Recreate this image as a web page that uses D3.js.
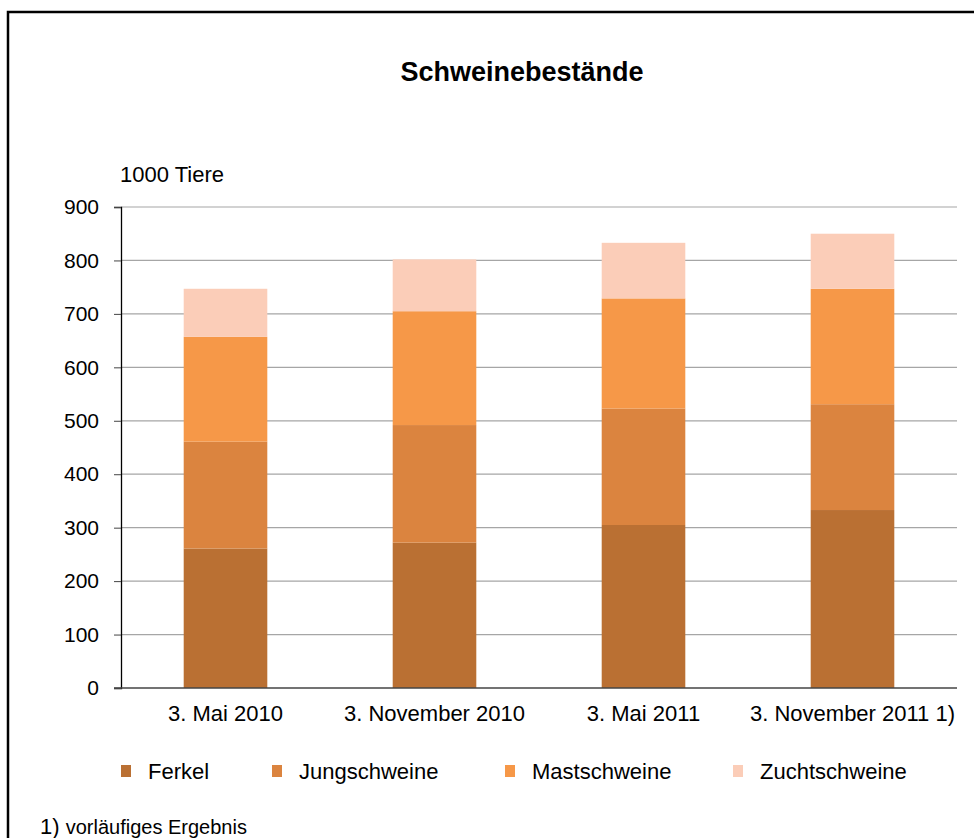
<!DOCTYPE html>
<html>
<head>
<meta charset="utf-8">
<script src="https://cdn.jsdelivr.net/npm/d3@7"></script>
<style>
  body { margin: 0; background: #fff; }
  svg { display: block; font-family: "Liberation Sans", Arial, sans-serif; }
</style>
</head>
<body>
<div id="chart"></div>
<script>
// Schweinebestände, 1000 Tiere
const categories = ["3. Mai 2010", "3. November 2010", "3. Mai 2011", "3. November 2011 1)"];
const seriesNames = ["Ferkel", "Jungschweine", "Mastschweine", "Zuchtschweine"];
const ferkel = [261, 272, 305, 333];
const jungschweine = [200, 220, 218, 198];
const mastschweine = [196, 213, 206, 216];
const zuchtschweine = [90, 97, 104, 103];
const yTicks = [0, 100, 200, 300, 400, 500, 600, 700, 800, 900];
const colors = ["#ba7033", "#db843f", "#f69848", "#fbcdb8"];

function main() {
    const width = 974;
    const height = 838;
    const marginLeft = 121;
    const marginRight = 17;
    const marginTop = 207;
    const plotBottom = 688;

    const rows = categories.map((c, i) => ({
        cat: c,
        Ferkel: ferkel[i],
        Jungschweine: jungschweine[i],
        Mastschweine: mastschweine[i],
        Zuchtschweine: zuchtschweine[i]
    }));
    const stacked = d3.stack().keys(seriesNames)(rows);

    const svg = d3.select("#chart").append("svg")
        .attr("width", width)
        .attr("height", height);

    // frame
    svg.append("rect")
        .attr("x", 8).attr("y", 12)
        .attr("width", 980).attr("height", 840)
        .attr("fill", "none")
        .attr("stroke", "#000")
        .attr("stroke-width", 2.5);

    const x = d3.scaleBand()
        .domain(categories)
        .range([marginLeft, width - marginRight])
        .paddingInner(0.6)
        .paddingOuter(0.3);

    const y = d3.scaleLinear()
        .domain([0, 900])
        .range([plotBottom, marginTop]);

    // gridlines
    svg.append("g")
        .selectAll("line")
        .data(yTicks.filter(d => d > 0))
        .join("line")
        .attr("x1", marginLeft)
        .attr("x2", width - marginRight)
        .attr("y1", d => y(d))
        .attr("y2", d => y(d))
        .attr("stroke", "#a6a6a6")
        .attr("stroke-width", 1.2);

    // bars
    svg.append("g")
        .selectAll("g")
        .data(stacked)
        .join("g")
        .attr("fill", (d, i) => colors[i])
        .selectAll("rect")
        .data(d => d)
        .join("rect")
        .attr("x", d => x(d.data.cat))
        .attr("y", d => y(d[1]))
        .attr("width", x.bandwidth())
        .attr("height", d => y(d[0]) - y(d[1]));

    // y axis
    const yAxis = svg.append("g")
        .attr("transform", `translate(${marginLeft},0)`)
        .call(d3.axisLeft(y).tickValues(yTicks).tickSize(7).tickPadding(15));
    yAxis.select(".domain").attr("stroke", "#000").attr("stroke-width", 1.3);
    yAxis.selectAll(".tick line").attr("stroke", "#444");
    yAxis.selectAll("text")
        .attr("font-size", 21)
        .attr("font-family", "Liberation Sans, Arial, sans-serif")
        .attr("fill", "#000");

    // x axis
    const xAxis = svg.append("g")
        .attr("transform", `translate(0,${plotBottom})`)
        .call(d3.axisBottom(x).tickSize(0).tickPadding(17));
    xAxis.select(".domain").remove();
    xAxis.selectAll("text")
        .attr("font-size", 22)
        .attr("font-family", "Liberation Sans, Arial, sans-serif")
        .attr("fill", "#000");
    svg.append("line")
        .attr("x1", marginLeft - 7)
        .attr("x2", width - marginRight)
        .attr("y1", plotBottom)
        .attr("y2", plotBottom)
        .attr("stroke", "#444")
        .attr("stroke-width", 1.3);

    // title
    svg.append("text")
        .attr("x", 522)
        .attr("y", 81)
        .attr("text-anchor", "middle")
        .attr("font-size", 27)
        .attr("font-weight", "bold")
        .text("Schweinebestände");

    // unit label
    svg.append("text")
        .attr("x", 120)
        .attr("y", 182)
        .attr("font-size", 22)
        .text("1000 Tiere");

    // legend
    const legendX = [121, 272, 505, 733];
    const legend = svg.append("g")
        .selectAll("g")
        .data(seriesNames)
        .join("g")
        .attr("transform", (d, i) => `translate(${legendX[i]},779)`);
    legend.append("rect")
        .attr("x", 0)
        .attr("y", -14)
        .attr("width", 10)
        .attr("height", 12)
        .attr("fill", (d, i) => colors[i]);
    legend.append("text")
        .attr("x", 27)
        .attr("y", 0)
        .attr("font-size", 22)
        .text(d => d);

    // footnote
    const foot = svg.append("text")
        .attr("x", 40)
        .attr("y", 834);
    foot.append("tspan").attr("font-size", 22).text("1) ");
    foot.append("tspan").attr("font-size", 20).text("vorläufiges Ergebnis");
}

main();
</script>
</body>
</html>
